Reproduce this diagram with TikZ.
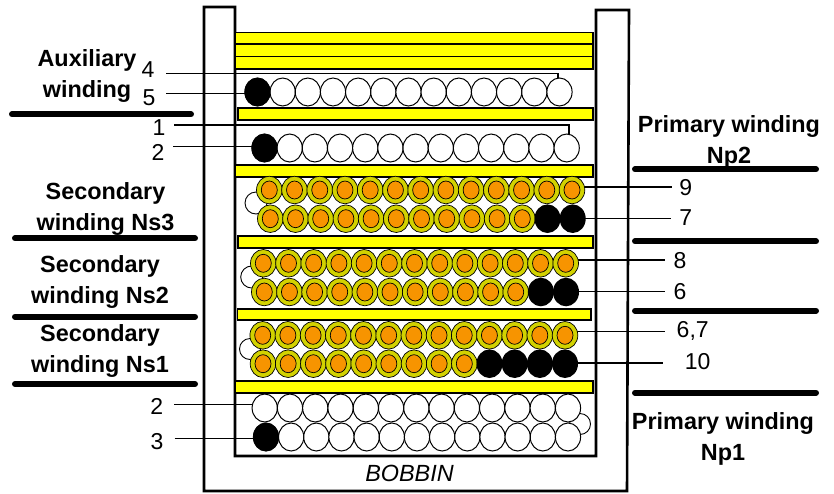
\documentclass[tikz,border=0pt]{standalone}
\usepackage{fontspec}
\setmainfont{Liberation Sans}
\definecolor{barY}{HTML}{FFFF00}
\definecolor{ringY}{HTML}{D2D200}
\definecolor{coreO}{HTML}{F79400}
\tikzset{
  wall/.style={line width=2.6pt,line join=miter},
  bar/.style={draw=black,fill=barY,line width=1.6pt},
  wire/.style={line width=1.4pt},
  lead/.style={line width=1.2pt},
  rule/.style={line width=6pt,line cap=round},
  lab/.style={font=\fontsize{23.4}{31}\selectfont\bfseries,align=center,text=black,inner sep=0pt},
  num/.style={font=\fontsize{23}{26}\selectfont,inner sep=0pt},
}
\newcommand{\wht}[2]{\draw[line width=1pt,fill=white] (#1,#2) ellipse [x radius=12.6,y radius=14];}
\newcommand{\blk}[2]{\fill[black] (#1,#2) ellipse [x radius=13,y radius=14.3];}
\newcommand{\org}[2]{\draw[line width=.7pt,fill=ringY] (#1,#2) ellipse [x radius=12.8,y radius=13.8];
  \draw[line width=.7pt,fill=coreO] (#1,#2) ellipse [x radius=8,y radius=9];}
\newcommand{\orgrow}[4]{\pgfmathsetmacro{\st}{(#2-#1)/12}
  \foreach \i in {0,...,12}{\pgfmathsetmacro{\xx}{#1+\i*\st}
    \ifnum\i<#4\relax \org{\xx}{#3}\else \blk{\xx}{#3}\fi}}
\newcommand{\whtrow}[3]{\pgfmathsetmacro{\st}{(#2-#1)/12}
  \foreach \i in {0,...,12}{\pgfmathsetmacro{\xx}{#1+\i*\st}
    \wht{\xx}{#3}}}
\begin{document}
\begin{tikzpicture}[x=1pt,y=-1pt]
\useasboundingbox (0,0) rectangle (834,493);
% bobbin
\coordinate (oTL) at (204,7); \coordinate (oBL) at (204,491); \coordinate (oBR) at (627,491); \coordinate (oTR) at (629,10);
\coordinate (iTL) at (235,7); \coordinate (iBL) at (235,456); \coordinate (iBR) at (596,456); \coordinate (iTR) at (596,10);
\draw[wall] (iTL) -- (oTL) -- (oBL) -- (oBR) -- (oTR) -- (iTR) -- (iBR) -- (iBL) -- cycle;
% bars
\draw[bar] (235,32.5) rectangle (593,44);
\draw[bar] (235,44) rectangle (593,56.5);
\draw[bar] (235,56.5) rectangle (593,69);
\draw[bar] (238,108) rectangle (593,120);
\draw[bar] (235,165) rectangle (593,177);
\draw[bar] (238,236) rectangle (593,248);
\draw[bar] (237.5,309) rectangle (591,320);
\draw[bar] (235,381) rectangle (593,393);
% lead ends
\coordinate (p4) at (166,73.7); \coordinate (p4b) at (558,73.7); \coordinate (p4c) at (558,81);
\coordinate (p5) at (166,93.3); \coordinate (e5) at (250,93.3);
\coordinate (p1) at (174.3,125); \coordinate (p1b) at (569,125); \coordinate (p1c) at (569,136);
\coordinate (p2) at (173.3,146.7); \coordinate (e2) at (258,146.7);
\coordinate (q2) at (174,404.3); \coordinate (f2) at (255,404.3);
\coordinate (q3) at (174.5,438.7); \coordinate (f3) at (258,438.7);
\draw[wire] (p4) -- (p4b) -- (p4c);
\draw[wire] (p1) -- (p1b) -- (p1c);
\draw[wire] (p5) -- (e5);
\draw[wire] (p2) -- (e2);
\draw[wire] (q2) -- (f2);
\draw[wire] (q3) -- (f3);
% leads right
\coordinate (r9) at (671.7,187); \coordinate (s9) at (580,187);
\coordinate (r7) at (670.7,218.3); \coordinate (s7) at (580,218.3);
\coordinate (r8) at (665,260); \coordinate (s8) at (570,260);
\coordinate (r6) at (665,291.5); \coordinate (s6) at (570,291.5);
\coordinate (r67) at (665,331.7); \coordinate (s67) at (570,331.7);
\coordinate (r10) at (663,363); \coordinate (s10) at (570,363);
\draw[lead] (s9) -- (r9);
\draw[lead] (s7) -- (r7);
\draw[lead] (s8) -- (r8);
\draw[lead] (s6) -- (r6);
\draw[lead] (s67) -- (r67);
\draw[lead] (s10) -- (r10);
% windings
\whtrow{257.5}{559.5}{92} \blk{257.5}{92}
\whtrow{264.5}{566.7}{148} \blk{264.5}{148}
\draw[line width=.9pt,fill=white] (256,203) circle (11);
\orgrow{269.3}{572}{190}{13}
\orgrow{270.3}{572.7}{218.7}{11}
\draw[line width=.9pt,fill=white] (251.7,277) circle (11);
\orgrow{263.3}{565.7}{263.3}{13}
\orgrow{264.3}{566}{292}{11}
\draw[line width=.9pt,fill=white] (250,349) circle (10.5);
\orgrow{262.7}{565}{335.3}{13}
\orgrow{263}{565}{363.7}{9}
\draw[line width=.9pt,fill=white] (580,424) circle (10.5);
\whtrow{264.7}{568}{408}
\whtrow{266}{568}{437} \blk{266}{437}
\node[font=\fontsize{23.4}{26}\selectfont\itshape,inner sep=0pt] (bob) at (409.5,473) {BOBBIN};
% rules
\draw[rule] (12,114.3) -- (191,114.3);
\draw[rule] (15,238.3) -- (195,238.3);
\draw[rule] (15,316.7) -- (195,316.7);
\draw[rule] (15,384) -- (195,384);
\draw[rule] (635,169.3) -- (816,169.3);
\draw[rule] (635,241.3) -- (816,241.3);
\draw[rule] (635,310.7) -- (816,310.7);
\draw[rule] (635,392.7) -- (816,392.7);
% labels
\node[lab] (aux) at (87,76) {Auxiliary\\winding};
\node[lab] (ns3) at (105.5,209) {Secondary\\winding Ns3};
\node[lab] (ns2) at (100,282) {Secondary\\winding Ns2};
\node[lab] (ns1) at (100,351) {Secondary\\winding Ns1};
\node[lab] (np2) at (729,142) {Primary winding\\Np2};
\node[lab] (np1) at (723,439) {Primary winding\\Np1};
\node[num] (n4) at (148,70) {4};
\node[num] (n5) at (149,98) {5};
\node[num] (n1) at (159,128) {1};
\node[num] (n2) at (158,152.7) {2};
\node[num] (m2) at (156.7,406) {2};
\node[num] (m3) at (157,442) {3};
\node[num] (n9) at (685.7,187.7) {9};
\node[num] (n7) at (685.7,218) {7};
\node[num] (n8) at (680,260.7) {8};
\node[num] (n6) at (680,292) {6};
\node[num] (n67) at (692.7,331) {6,7};
\node[num] (n10) at (697.7,362) {10};
\end{tikzpicture}
\end{document}
